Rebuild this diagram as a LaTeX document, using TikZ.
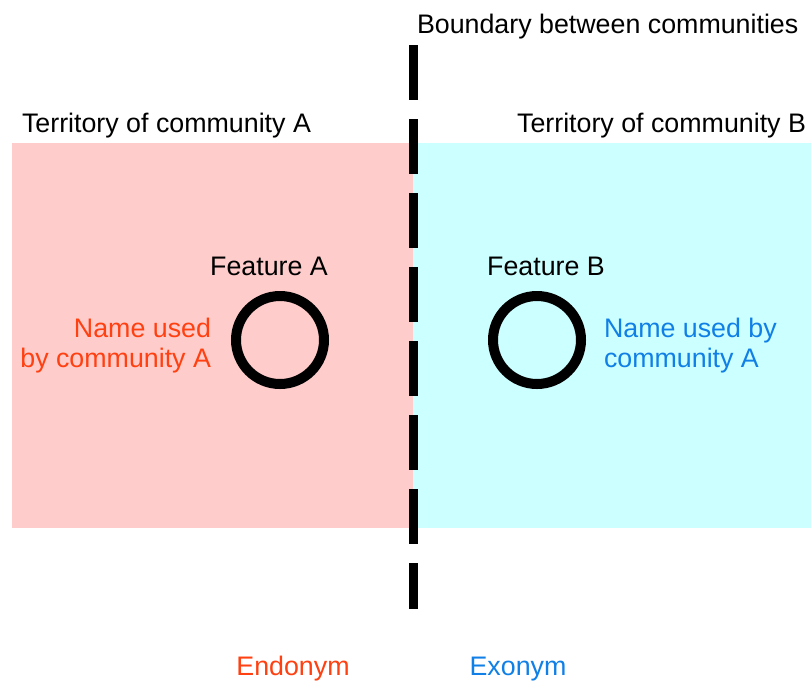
\documentclass[tikz,border=0pt]{standalone}
\usepackage{fontspec}
\setmainfont{Liberation Sans}
\definecolor{pinkA}{RGB}{255,204,204}
\definecolor{cyanB}{RGB}{204,255,255}
\definecolor{endoRed}{RGB}{255,64,16}
\definecolor{exoBlue}{RGB}{16,128,230}
\tikzset{
  region/.style={draw=none, inner sep=0, outer sep=0, anchor=north west},
  lbl/.style={inner sep=0, outer sep=0, font=\fontsize{26.8}{30}\selectfont},
  feature/.style={circle, draw=black, line width=10pt, minimum size=88pt, inner sep=0},
  boundary/.style={line width=9pt, dash pattern=on 55pt off 19pt}
}
\begin{document}
\begin{tikzpicture}[x=1pt,y=-1pt]
\useasboundingbox (0,0) rectangle (811,681);
\node[region, fill=pinkA, minimum width=401pt, minimum height=385pt] (terrA) at (12,143) {};
\node[region, fill=cyanB, minimum width=398pt, minimum height=385pt] (terrB) at (413,143) {};
\coordinate (btop) at (413,45);
\coordinate (bbot) at (413,609);
\draw[boundary] (btop) -- (bbot);
\node[lbl, anchor=base west] (boundlbl) at (417,33) {Boundary between communities};
\node[lbl, anchor=base west] (terrAlbl) at (22,132) {Territory of community A};
\node[lbl, anchor=base east] (terrBlbl) at (806,132) {Territory of community B};
\node[feature] (featA) at (280,340) {};
\node[feature] (featB) at (537,340) {};
\node[lbl, anchor=base] (featAlbl) at (269,275) {Feature A};
\node[lbl, anchor=base] (featBlbl) at (546,275) {Feature B};
\node[lbl, anchor=base east, align=right, text=endoRed] (nameA) at (211,367) {Name used\\by community A};
\node[lbl, anchor=base west, align=left, text=exoBlue] (nameB) at (604,367) {Name used by\\community A};
\node[lbl, anchor=base, text=endoRed] (endo) at (293,675) {Endonym};
\node[lbl, anchor=base, text=exoBlue] (exo) at (518,675) {Exonym};
\end{tikzpicture}
\end{document}
